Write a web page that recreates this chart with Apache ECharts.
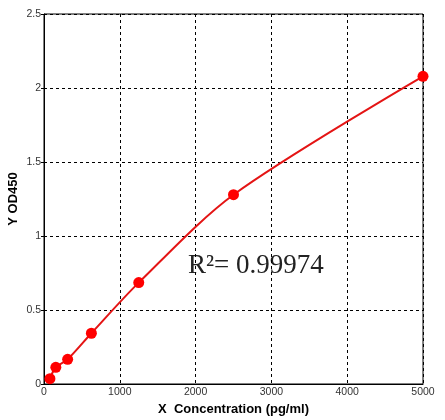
<!DOCTYPE html>
<html>
<head>
<meta charset="utf-8">
<script src="https://cdn.jsdelivr.net/npm/echarts@6/dist/echarts.min.js"></script>
<style>html,body{margin:0;padding:0;background:#fff;}#c{width:445px;height:420px;}</style>
</head>
<body>
<div id="c"></div>
<script>
var concentrations = [78, 156, 312, 625, 1250, 2500, 5000];
var odValues = [0.036, 0.113, 0.167, 0.343, 0.685, 1.279, 2.079];
var xTicks = [0, 1000, 2000, 3000, 4000, 5000];
var yTicks = [0, 0.5, 1, 1.5, 2, 2.5];
var r2Text = 'R²= 0.99974';

var points = concentrations.map(function (c, i) { return [c, odValues[i]]; });

var chart = echarts.init(document.getElementById('c'));
chart.setOption({
  animation: false,
  backgroundColor: '#fff',
  grid: { left: 44, right: 22, top: 14, bottom: 36, containLabel: false, outerBoundsMode: 'none',
          show: true, borderColor: '#000', borderWidth: 1 },
  xAxis: {
    type: 'value', min: xTicks[0], max: xTicks[xTicks.length - 1], interval: 1000,
    name: 'X  Concentration (pg/ml)', nameLocation: 'middle', nameGap: 19, nameMoveOverlap: false,
    nameTextStyle: { fontFamily: 'Liberation Sans', fontWeight: 'bold', fontSize: 13, color: '#000' },
    axisLine: { lineStyle: { color: '#000', width: 1 } },
    axisTick: { show: false },
    axisLabel: { fontFamily: 'Liberation Sans', fontSize: 10.5, color: '#333', margin: 3,
                 formatter: function (v) { return String(v); } },
    splitLine: { show: true, lineStyle: { color: '#000', type: [3, 3], width: 1 } }
  },
  yAxis: {
    type: 'value', min: yTicks[0], max: yTicks[yTicks.length - 1], interval: 0.5,
    name: 'Y OD450', nameLocation: 'middle', nameGap: 24, nameMoveOverlap: false,
    nameTextStyle: { fontFamily: 'Liberation Sans', fontWeight: 'bold', fontSize: 13, color: '#000' },
    axisLine: { show: true, lineStyle: { color: '#000', width: 1 } },
    axisTick: { show: true, length: 3, lineStyle: { color: '#000' } },
    axisLabel: { fontFamily: 'Liberation Sans', fontSize: 10.5, color: '#333', margin: 3,
                 formatter: function (v) { return String(v); } },
    splitLine: { show: true, lineStyle: { color: '#000', type: [3, 3], width: 1 } }
  },
  series: [{
    type: 'line',
    data: points,
    smooth: 0.3,
    symbol: 'circle',
    symbolSize: 11,
    itemStyle: { color: '#ff0000' },
    lineStyle: { color: '#e41414', width: 2 }
  }],
  graphic: [{
    type: 'text', x: 188, y: 266,
    style: { text: r2Text, fontFamily: 'Liberation Serif', fontSize: 27, fill: '#222', verticalAlign: 'middle', align: 'left' }
  }]
});
</script>
</body>
</html>
